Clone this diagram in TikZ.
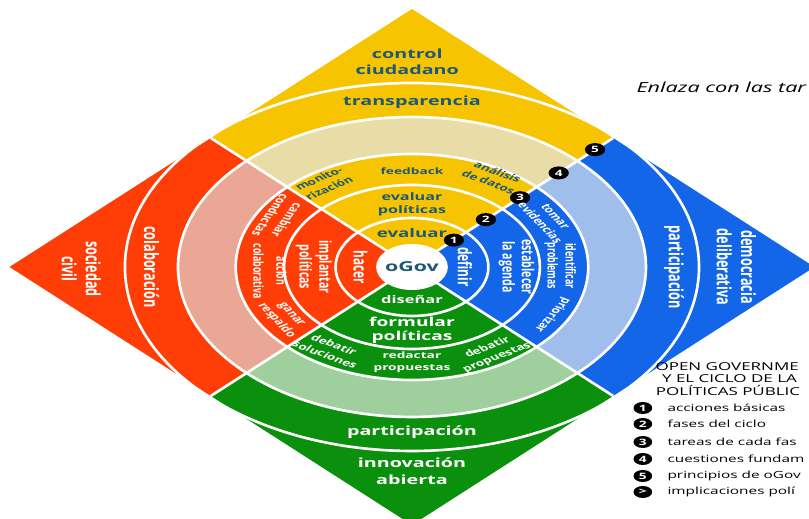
\documentclass[tikz,border=0pt]{standalone}
\usepackage{fontspec}
\setmainfont{Open Sans}
\usetikzlibrary{positioning}

\definecolor{ogYellow}{HTML}{F6C400}
\definecolor{ogYellowPale}{HTML}{EADCA6}
\definecolor{ogRed}{HTML}{FF3D06}
\definecolor{ogRedPale}{HTML}{EAA796}
\definecolor{ogGreen}{HTML}{0A900C}
\definecolor{ogGreenPale}{HTML}{A0CF9E}
\definecolor{ogBlue}{HTML}{1466E9}
\definecolor{ogBluePale}{HTML}{A0BEEC}
\definecolor{ogInk}{HTML}{1D5878}

\begin{document}
\begin{tikzpicture}[x=0.02cm, y=0.02cm, xscale=1.56, transform shape,
  ringline/.style={white, line width=1.5pt},
  lab/.style 2 args={text=white, align=center, inner sep=0pt, font=\bfseries\fontsize{#1}{#2}\selectfont},
  ink/.style 2 args={lab={#1}{#2}, text=ogInk},
  marker/.style={circle, fill=black, minimum size=0.26cm, inner sep=0pt, text=white, font=\bfseries\fontsize{5}{5}\selectfont},
  legbullet/.style={circle, fill=black, minimum size=0.24cm, inner sep=0pt, text=white, font=\bfseries\fontsize{5}{5}\selectfont},
  legtext/.style={anchor=west, inner sep=0pt, font=\fontsize{5.6}{6}\selectfont}]

  \useasboundingbox (-264.1,-252) rectangle (254.5,267);
  \clip (-264.1,-252) rectangle (254.5,267);

  % quadrants of the diamond
  \foreach \a/\full/\pale in {45/ogYellow/ogYellowPale, 135/ogRed/ogRedPale, 225/ogGreen/ogGreenPale, 315/ogBlue/ogBluePale} {
    \pgfmathsetmacro{\m}{\a+45}
    \pgfmathsetmacro{\b}{\a+90}
    \fill[\full] (0,0) -- (\a:182.4) -- (\m:258) -- (\b:182.4) -- cycle;
    \fill[\pale] (\a:113) arc[start angle=\a, end angle=\b, radius=113]
      -- (\b:150) arc[start angle=\b, end angle=\a, radius=150] -- cycle;
  }

  \foreach \r in {49, 82, 113, 150, 184}
    \draw[ringline] (0,0) circle[radius=\r];
  \foreach \a in {45, 135, 225, 315}
    \draw[ringline] (0,0) -- (\a:182.4);

  \node[circle, fill=white, minimum size=0.92cm, inner sep=0pt, text=ogInk,
    font=\bfseries\fontsize{7.8}{8}\selectfont] (ogov) at (0,0) {oGov};

  % numbered markers on the yellow/blue border
  \foreach \n/\r in {1/38, 2/67, 3/98, 4/133, 5/166}
    \node[marker] (m\n) at (45:\r) {\n};

  % yellow
  \node[ink={7.2}{9.4}] (ctrl) at (-3,205) {control\\ciudadano};
  \node[ink={7.2}{9}] (transp) at (0,165) {transparencia};
  \node[ink={5}{6}] (feedb) at (0,96) {feedback};
  \node[ink={5}{6.6}, rotate=34] (monit) at (124:101) {monito-\\rización};
  \node[ink={5}{6.6}, rotate=-30] (anal) at (60:104) {análisis\\de datos};
  \node[ink={5.9}{7.4}] (evalpol) at (0,63) {evaluar\\políticas};
  \node[ink={6.8}{7}] (eval) at (0,34) {evaluar};

  % red
  \node[lab={6.7}{7}, rotate=-90] (hacer) at (-33,0) {hacer};
  \node[lab={6}{7.2}, rotate=-90] (implant) at (-63,0) {implantar\\políticas};
  \node[lab={5}{6.6}, rotate=-115] (cambiar) at (150:98.5) {cambiar\\conductas};
  \node[lab={5}{8.4}, rotate=-90] (accion) at (-91,-4) {acción\\colaborativa};
  \node[lab={5}{6.6}, rotate=-58] (ganar) at (211.6:97) {ganar\\respaldo};
  \node[lab={7.2}{8}, rotate=-90] (colab) at (-167,0) {colaboración};
  \node[lab={7.2}{8.8}, rotate=-90] (socie) at (-212,-2) {sociedad\\civil};

  % blue
  \node[lab={6.8}{7}, rotate=-90] (definir) at (34,0) {definir};
  \node[lab={6}{7}, rotate=-90] (agenda) at (67,0) {establecer\\la agenda};
  \node[lab={5}{6.6}, rotate=-58] (tomar) at (28.5:99) {tomar\\evidencias};
  \node[lab={5}{6.6}, rotate=-90] (identif) at (95,1) {identificar\\problemas};
  \node[lab={5}{6}, rotate=-120] (prior) at (-28:102) {priorizar};
  \node[lab={7.2}{8}, rotate=-90] (partB) at (168,0) {participación};
  \node[lab={7.2}{8.8}, rotate=-90] (democ) at (208,0) {democracia\\deliberativa};

  % green
  \node[lab={6}{6.5}] (disenar) at (0,-33) {diseñar};
  \node[lab={7}{8}] (formul) at (0,-63) {formular\\políticas};
  \node[lab={5}{6.6}] (redact) at (0,-95) {redactar\\propuestas};
  \node[lab={5}{6.6}, rotate=-30] (debsol) at (237.4:98) {debatir\\soluciones};
  \node[lab={5}{6.6}, rotate=31] (debprop) at (301:100) {debatir\\propuestas};
  \node[lab={7.2}{8}] (partG) at (0,-165) {participación};
  \node[lab={7.2}{9.4}] (innov) at (0,-204) {innovación\\abierta};

  % legend
  \node[anchor=west, inner sep=0pt, font=\itshape\fontsize{7.9}{9}\selectfont] (enlaza) at (143.6,180) {Enlaza con las tar};
  \node[anchor=west, inner sep=0pt, font=\fontsize{6.2}{6.5}\selectfont] (head1) at (155.8,-100) {OPEN GOVERNME};
  \node[anchor=west, inner sep=0pt, font=\fontsize{6.2}{6.5}\selectfont] (head2) at (160,-112) {Y EL CICLO DE LA};
  \node[anchor=west, inner sep=0pt, font=\fontsize{6.2}{6.5}\selectfont] (head3) at (156,-123) {POLÍTICAS PÚBLIC};
  \foreach \k/\txt/\v in {1/acciones básicas/-141, 2/fases del ciclo/-157, 3/tareas de cada fas/-175,
      4/cuestiones fundam/-192, 5/principios de oGov/-209, 6/implicaciones polí/-225} {
    \node[legbullet] (lb\k) at (148,\v) {\ifnum\k=6 >\else\k\fi};
    \node[legtext] (lt\k) at (163.5,\v) {\txt};
  }

\end{tikzpicture}
\end{document}
